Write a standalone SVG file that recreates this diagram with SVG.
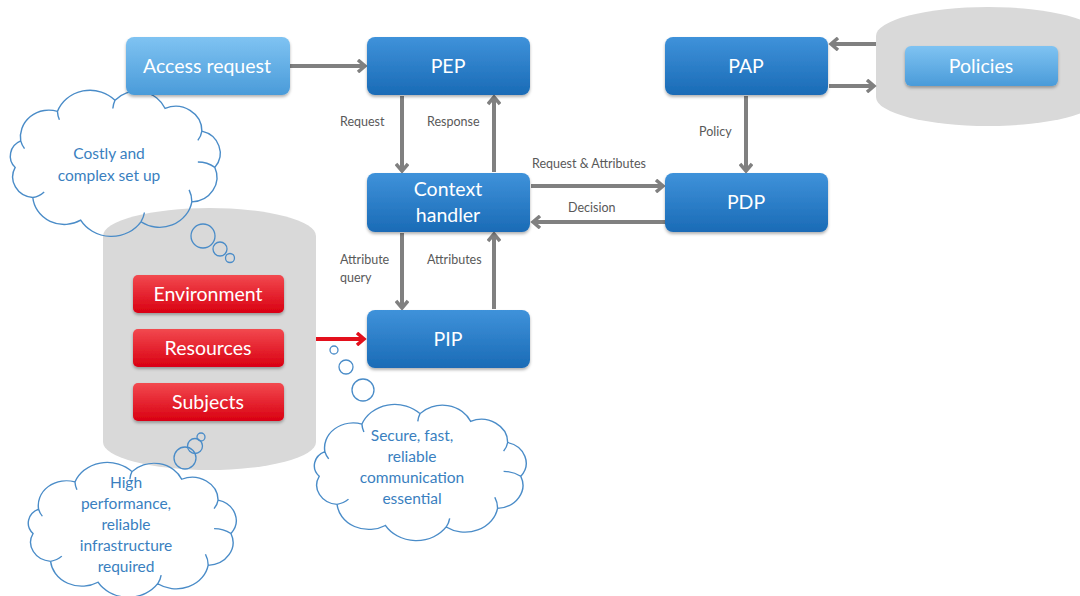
<svg xmlns="http://www.w3.org/2000/svg" width="1080" height="596" viewBox="0 0 1080 596">
<defs>
<linearGradient id="gBlue" x1="0" y1="0" x2="0" y2="1"><stop offset="0" stop-color="#3f92da"/><stop offset="1" stop-color="#1a6bb6"/></linearGradient>
<linearGradient id="gLight" x1="0" y1="0" x2="0" y2="1"><stop offset="0" stop-color="#7fc3f2"/><stop offset="1" stop-color="#4a9bd9"/></linearGradient>
<linearGradient id="gRed" x1="0" y1="0" x2="0" y2="1"><stop offset="0" stop-color="#f2494f"/><stop offset="1" stop-color="#d90012"/></linearGradient>
<marker id="ah" markerWidth="12" markerHeight="14" refX="9" refY="7" orient="auto" markerUnits="userSpaceOnUse"><polyline points="2,1 9,7 2,13" fill="none" stroke="#808080" stroke-width="3.5"/></marker>
<marker id="ahr" markerWidth="12" markerHeight="14" refX="9" refY="7" orient="auto" markerUnits="userSpaceOnUse"><polyline points="2,1 9,7 2,13" fill="none" stroke="#e3101c" stroke-width="3.5"/></marker>
<filter id="sh" x="-10%" y="-10%" width="120%" height="130%"><feDropShadow dx="0" dy="2" stdDeviation="1.5" flood-color="#000" flood-opacity="0.3"/></filter>
<path id="cloud" d="M13.5,47.5 A26,26 0 0 1 47.2,18.9 A32,32 0 0 1 100,8 A28,28 0 0 1 146,16 A24,24 0 0 1 179.7,38 A22,22 0 0 1 191.6,73.2 A24,24 0 0 1 170.5,106.6 A30,30 0 0 1 123.8,126 A33,33 0 0 1 68.5,124.4 A29,29 0 0 1 24.6,102.4 A20,20 0 0 1 8.4,73.2 A16,16 0 0 1 13.5,47.5 Z M13.5,47.5 A22,22 0 0 0 17,55 M47.2,18.9 A24,24 0 0 0 49,27 M100,8 A24,24 0 0 0 98,16 M179.7,38 A20,20 0 0 1 176,47 M191.6,73.2 A26,26 0 0 0 176,68 M170.5,106.6 A26,26 0 0 0 168,95 M123.8,126 A24,24 0 0 0 127,117 M24.6,102.4 A20,20 0 0 0 35,97"/>
</defs>
<style>
.box{fill:url(#gBlue);filter:url(#sh)}
.lbox{fill:url(#gLight);filter:url(#sh)}
.rbox{fill:url(#gRed);filter:url(#sh)}
.bt{font-family:Lato,"Open Sans",sans-serif;font-size:19.5px;fill:#fff;text-anchor:middle}
.lab{font-family:Lato,"Open Sans",sans-serif;font-size:12.5px;fill:#595959}
.ct{font-family:Lato,"Open Sans",sans-serif;font-size:15.5px;fill:#3a7fc0;text-anchor:middle}
.cl{fill:none;stroke:#4a8cc8;stroke-width:1.3;vector-effect:non-scaling-stroke}
.con{stroke:#808080;stroke-width:4;fill:none;marker-end:url(#ah)}
.grey{fill:#d9d9d9}
</style>
<rect width="1080" height="596" fill="#fff"/>
<g id="cylinders">
<path class="grey" d="M103,236 A106.5,28 0 0 1 316,236 V442 A106.5,28 0 0 1 103,442 Z"/>
<path class="grey" d="M876,36 A112,29 0 0 1 1100,36 V97 A112,29 0 0 1 876,97 Z"/>
</g>
<g id="clouds">
<use href="#cloud" class="cl" transform="translate(6,92) scale(1.09,1.03)"/>
<circle class="cl" cx="203" cy="236" r="12"/><circle class="cl" cx="220" cy="249" r="7"/><circle class="cl" cx="230" cy="258" r="4.5"/>
<use href="#cloud" class="cl" transform="translate(24,464) scale(1.08,0.95)"/>
<circle class="cl" cx="185" cy="458" r="11"/><circle class="cl" cx="195" cy="446" r="7.5"/><circle class="cl" cx="201" cy="437" r="4"/>
<use href="#cloud" class="cl" transform="translate(310,406) scale(1.1,0.96)"/>
<circle class="cl" cx="334" cy="350" r="4"/><circle class="cl" cx="346" cy="367" r="7"/><circle class="cl" cx="363" cy="390" r="11"/>
<text class="ct" x="109" y="159">Costly  and</text>
<text class="ct" x="109" y="181">complex set up</text>
<text class="ct" x="126" y="488">High</text>
<text class="ct" x="126" y="509">performance,</text>
<text class="ct" x="126" y="530">reliable</text>
<text class="ct" x="126" y="551">infrastructure</text>
<text class="ct" x="126" y="572">required</text>
<text class="ct" x="412" y="441">Secure, fast,</text>
<text class="ct" x="412" y="462">reliable</text>
<text class="ct" x="412" y="483">communication</text>
<text class="ct" x="412" y="504">essential</text>
</g>
<g id="connectors">
<line class="con" x1="290" y1="66" x2="365" y2="66"/>
<line class="con" x1="402" y1="96" x2="402" y2="171"/>
<line class="con" x1="494" y1="172" x2="494" y2="97"/>
<line class="con" x1="531" y1="186" x2="663" y2="186"/>
<line class="con" x1="665" y1="222" x2="533" y2="222"/>
<line class="con" x1="402" y1="233" x2="402" y2="308"/>
<line class="con" x1="494" y1="309" x2="494" y2="234"/>
<line class="con" x1="746" y1="96" x2="746" y2="171"/>
<line class="con" x1="876" y1="44" x2="831" y2="44"/>
<line class="con" x1="829" y1="86" x2="874" y2="86"/>
<line x1="316" y1="339" x2="364" y2="339" stroke="#e3101c" stroke-width="4" marker-end="url(#ahr)"/>
<text class="lab" x="340" y="126">Request</text>
<text class="lab" x="427" y="126">Response</text>
<text class="lab" x="532" y="168">Request &amp; Attributes</text>
<text class="lab" x="568" y="212">Decision</text>
<text class="lab" x="340" y="264">Attribute</text>
<text class="lab" x="340" y="282">query</text>
<text class="lab" x="427" y="264">Attributes</text>
<text class="lab" x="699" y="136">Policy</text>
</g>
<g id="access-request"><rect class="lbox" x="126" y="37" width="164" height="58" rx="8"/><text class="bt" x="207" y="73">Access request</text></g>
<g id="pep"><rect class="box" x="367" y="37" width="163" height="58" rx="8"/><text class="bt" x="448" y="73">PEP</text></g>
<g id="pap"><rect class="box" x="665" y="37" width="163" height="58" rx="8"/><text class="bt" x="746" y="73">PAP</text></g>
<g id="policies"><rect class="lbox" x="905" y="46" width="153" height="40" rx="6"/><text class="bt" x="981" y="73">Policies</text></g>
<g id="context-handler"><rect class="box" x="367" y="173" width="163" height="59" rx="8"/><text class="bt" x="448" y="196">Context</text><text class="bt" x="448" y="222">handler</text></g>
<g id="pdp"><rect class="box" x="665" y="173" width="163" height="59" rx="8"/><text class="bt" x="746" y="209">PDP</text></g>
<g id="pip"><rect class="box" x="367" y="310" width="163" height="58" rx="8"/><text class="bt" x="448" y="346">PIP</text></g>
<g id="environment"><rect class="rbox" x="133" y="275" width="151" height="38" rx="5"/><text class="bt" x="208" y="301">Environment</text></g>
<g id="resources"><rect class="rbox" x="133" y="329" width="151" height="38" rx="5"/><text class="bt" x="208" y="355">Resources</text></g>
<g id="subjects"><rect class="rbox" x="133" y="383" width="151" height="38" rx="5"/><text class="bt" x="208" y="409">Subjects</text></g>
</svg>
